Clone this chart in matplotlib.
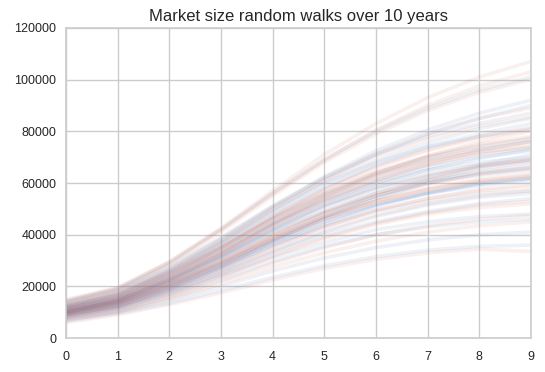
import numpy as np
import matplotlib
matplotlib.use('Agg')
import matplotlib.pyplot as plt

# years on the x axis
years = [0, 1, 2, 3, 4, 5, 6, 7, 8, 9]

# market size walks (blue family)
walks_blue = [
    [10000, 14500, 22000, 31000, 41000, 49000, 56000, 61000, 64000, 66000],
    [12000, 16000, 24000, 34000, 45000, 55000, 63000, 69000, 73000, 76000],
    [8500, 12000, 18000, 25000, 33000, 40000, 45000, 49000, 52000, 54000],
    [14000, 19000, 29000, 42000, 56000, 69000, 80000, 89000, 96000, 101000],
    [9000, 12500, 19000, 27000, 36000, 44000, 51000, 56000, 60000, 62000],
    [11000, 15000, 23000, 33000, 44000, 53000, 60000, 65000, 68000, 70000],
    [7000, 10000, 14500, 20000, 26000, 31000, 35000, 38000, 40000, 41000],
    [13000, 17500, 26000, 37000, 49000, 60000, 68000, 74000, 78000, 81000],
    [10500, 14000, 21000, 29000, 38000, 46000, 52000, 56000, 59000, 61000],
    [9500, 13500, 20000, 28500, 38000, 47000, 55000, 61000, 66000, 69000],
    [12500, 16500, 25000, 35000, 46000, 56000, 64000, 70000, 74000, 77000],
    [8000, 11500, 17000, 24000, 31000, 37000, 42000, 45000, 47000, 48000],
    [11500, 15500, 24000, 35000, 47000, 58000, 67000, 74000, 79000, 83000],
    [10000, 13500, 20500, 29500, 39500, 48000, 55000, 60000, 63000, 65000],
    [14500, 19000, 28000, 39000, 51000, 62000, 71000, 78000, 83000, 87000],
    [9000, 12000, 18500, 26500, 35500, 43000, 49000, 53000, 56000, 57000],
    [11000, 14500, 22000, 31500, 42000, 51000, 58000, 63000, 67000, 71000],
    [7500, 10500, 16000, 22500, 29500, 35500, 40000, 43000, 45000, 46000],
    [12000, 16500, 25500, 36500, 48500, 59500, 68500, 75500, 81000, 85000],
    [10000, 14000, 21500, 31000, 41500, 50500, 57500, 62500, 66500, 68500],
    [13500, 18000, 27000, 38500, 51000, 62500, 72500, 80500, 87000, 92000],
    [8500, 11500, 17500, 25000, 33500, 41000, 47000, 51500, 54500, 56000],
    [11000, 15000, 22500, 32000, 43000, 52500, 60000, 66000, 70000, 72500],
    [9500, 13000, 19500, 27500, 37000, 45000, 51500, 56500, 60000, 62000],
    [12500, 17000, 26000, 37000, 49500, 61000, 71000, 79000, 85000, 90000],
    [6500, 9500, 13500, 18500, 23500, 28000, 31500, 34000, 35500, 36000],
    [10500, 14500, 22000, 31500, 42000, 51500, 59000, 65000, 69500, 73000],
    [9000, 12500, 19000, 27500, 37500, 46500, 54000, 60000, 64500, 67000],
    [11500, 15500, 23500, 33500, 44500, 54000, 61500, 67000, 71000, 73500],
    [10000, 13500, 20000, 28000, 37000, 45000, 51500, 56000, 59500, 61500],
]

# market size walks (red family)
walks_red = [
    [10500, 14500, 22500, 32000, 42500, 51500, 58500, 63500, 67000, 69000],
    [9000, 12500, 19000, 27000, 36000, 43500, 49500, 54000, 57000, 58500],
    [12000, 16000, 24500, 35000, 46500, 56500, 64500, 70500, 75000, 78000],
    [14000, 18500, 28500, 41000, 55000, 68000, 79000, 88000, 95000, 100000],
    [8000, 11000, 16500, 23500, 31500, 38500, 44000, 48000, 50500, 52000],
    [11500, 15500, 23500, 33500, 44500, 54500, 62500, 68500, 73000, 76000],
    [9500, 13000, 20000, 28500, 38500, 47000, 54000, 59500, 63500, 66000],
    [13000, 17500, 26500, 37500, 50000, 61000, 70000, 77000, 82000, 85500],
    [7000, 10000, 15000, 21000, 27500, 33000, 37500, 41000, 43500, 45000],
    [10000, 14000, 21000, 30000, 40000, 48500, 55000, 60000, 63500, 65500],
    [12500, 17000, 25500, 36000, 47500, 58000, 66500, 73000, 78000, 81500],
    [8500, 12000, 18000, 25500, 34000, 41500, 47500, 52000, 55000, 57000],
    [11000, 15000, 23000, 33000, 44000, 53500, 61000, 67000, 71500, 74500],
    [9500, 13000, 19500, 28000, 37500, 46000, 53000, 58000, 61500, 63500],
    [15000, 19500, 29500, 42500, 57000, 71000, 83000, 93000, 101000, 107000],
    [10000, 13500, 20500, 29000, 38500, 46500, 53000, 57500, 60500, 62500],
    [6000, 9000, 13000, 17500, 22500, 27000, 30500, 33000, 34500, 33500],
    [12000, 16500, 25000, 35500, 47000, 57500, 66000, 72500, 77500, 80500],
    [9000, 12500, 18500, 26000, 35000, 43000, 49500, 54000, 57500, 59500],
    [11000, 15000, 22500, 32500, 43500, 53000, 61000, 67500, 72500, 76000],
    [10500, 14000, 21500, 30500, 40500, 49000, 56000, 61500, 65500, 68000],
    [13500, 18000, 27000, 38000, 50500, 62000, 71500, 79000, 85000, 89000],
    [8000, 11500, 17000, 24000, 32000, 39000, 44500, 48500, 51500, 53000],
    [11500, 15500, 24000, 34500, 46000, 56000, 64000, 70000, 74500, 77500],
    [9500, 13500, 20500, 29500, 39500, 48500, 56000, 62000, 66500, 69500],
    [12500, 16500, 25000, 35000, 46000, 55500, 63000, 68500, 72000, 74000],
    [7500, 10500, 15500, 22000, 29000, 35000, 40000, 43500, 46000, 47500],
    [10000, 14500, 22500, 32500, 44000, 54500, 63500, 70500, 76000, 80000],
    [14500, 19500, 29500, 42000, 56000, 69000, 80500, 90000, 97500, 103000],
    [10500, 14000, 21000, 29500, 39000, 47000, 53000, 57500, 61000, 63000],
]

plt.rcParams['font.family'] = ['Liberation Sans', 'DejaVu Sans']
plt.rcParams['text.color'] = '#262626'
plt.rcParams['xtick.color'] = '#262626'
plt.rcParams['ytick.color'] = '#262626'

fig = plt.figure(figsize=(5.45, 3.72), dpi=100)
ax = fig.add_axes([0.121, 0.091, 0.853, 0.834])

# interleave so neither colour sits entirely on top
for b, r in zip(walks_blue, walks_red):
    ax.plot(years, b, color='#4C72B0', alpha=0.09, lw=2.6, solid_capstyle='round')
    ax.plot(years, r, color='#D0644E', alpha=0.09, lw=2.6, solid_capstyle='round')

ax.set_xlim(0, 9)
ax.set_ylim(0, 120000)
ax.set_xticks(range(10))
ax.set_yticks(range(0, 120001, 20000))
ax.tick_params(length=0, labelsize=9, pad=7)
ax.tick_params(axis='x', pad=9)
ax.grid(True, color='#CCCCCC', lw=1)
ax.set_axisbelow(True)
for s in ax.spines.values():
    s.set_color('#CCCCCC')
    s.set_linewidth(1.2)
ax.set_title('Market size random walks over 10 years', fontsize=12, pad=5)

fig.savefig('out.png', dpi=100)
